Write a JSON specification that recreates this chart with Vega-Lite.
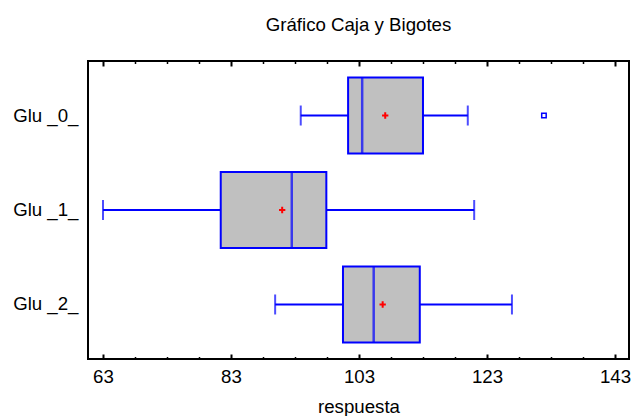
{
  "$schema": "https://vega.github.io/schema/vega-lite/v6.json",
  "width": 541,
  "height": 298,
  "autosize": {"type": "none"},
  "padding": {"left": 88, "top": 61, "right": 4, "bottom": 57},
  "background": "white",
  "title": {
    "text": "Gráfico Caja y Bigotes",
    "font": "Liberation Sans",
    "fontSize": 18.67,
    "fontWeight": "normal",
    "color": "black",
    "anchor": "middle",
    "baseline": "alphabetic",
    "offset": 10
  },
  "config": {
    "view": {"stroke": "black", "strokeWidth": 2},
    "font": "Liberation Sans"
  },
  "datasets": {
    "stats": [
      {"grupo": "Glu _0_", "lo": 93.9, "q1": 101.3, "med": 103.5, "q3": 113.0, "hi": 120.0, "mean": 107.1},
      {"grupo": "Glu _1_", "lo": 63.0, "q1": 81.4, "med": 92.5, "q3": 97.9, "hi": 121.0, "mean": 91.0},
      {"grupo": "Glu _2_", "lo": 89.9, "q1": 100.5, "med": 105.3, "q3": 112.5, "hi": 126.9, "mean": 106.7}
    ],
    "outliers": [
      {"grupo": "Glu _0_", "valor": 131.9}
    ]
  },
  "data": {"name": "stats"},
  "encoding": {
    "y": {
      "field": "grupo",
      "type": "nominal",
      "scale": {"paddingInner": 0, "paddingOuter": 0.077},
      "axis": {
        "title": null,
        "ticks": false,
        "domain": false,
        "labelFont": "Liberation Sans",
        "labelFontSize": 18.67,
        "labelColor": "black",
        "labelPadding": 10
      }
    }
  },
  "layer": [
    {
      "mark": {"type": "rule", "color": "#0000FF", "strokeWidth": 2},
      "encoding": {
        "x": {
          "field": "lo",
          "type": "quantitative",
          "scale": {"domain": [60.66, 145.19], "nice": false, "zero": false},
          "axis": {
            "orient": "bottom",
            "title": "respuesta",
            "titleFont": "Liberation Sans",
            "titleFontSize": 18.67,
            "titleFontWeight": "normal",
            "titleColor": "black",
            "titlePadding": 9,
            "values": [63, 68, 73, 78, 83, 88, 93, 98, 103, 108, 113, 118, 123, 128, 133, 138, 143],
            "labelExpr": "datum.value % 20 == 3 ? datum.label : ''",
            "labelFont": "Liberation Sans",
            "labelFontSize": 18.67,
            "labelColor": "black",
            "labelPadding": 13,
            "labelFlush": false,
            "labelOverlap": false,
            "domain": false,
            "grid": false,
            "tickColor": "black",
            "tickWidth": {"condition": {"test": "datum.value % 20 == 3", "value": 2}, "value": 1.5},
            "tickSize": {"condition": {"test": "datum.value % 20 == 3", "value": -5}, "value": -2.5}
          }
        },
        "x2": {"field": "hi"}
      }
    },
    {
      "mark": {"type": "tick", "color": "#0000FF", "thickness": 2, "size": 20},
      "encoding": {"x": {"field": "lo", "type": "quantitative", "axis": null}}
    },
    {
      "mark": {"type": "tick", "color": "#0000FF", "thickness": 2, "size": 20},
      "encoding": {"x": {"field": "hi", "type": "quantitative", "axis": null}}
    },
    {
      "mark": {"type": "bar", "fill": "#C0C0C0", "stroke": "#0000FF", "strokeWidth": 2, "size": 76},
      "encoding": {
        "x": {
          "field": "q1",
          "type": "quantitative",
          "axis": {
            "orient": "top",
            "title": null,
            "labels": false,
            "domain": false,
            "grid": false,
            "values": [63, 68, 73, 78, 83, 88, 93, 98, 103, 108, 113, 118, 123, 128, 133, 138, 143],
            "tickColor": "black",
            "tickWidth": {"condition": {"test": "datum.value % 20 == 3", "value": 2}, "value": 1.5},
            "tickSize": {"condition": {"test": "datum.value % 20 == 3", "value": -5}, "value": -2.5}
          }
        },
        "x2": {"field": "q3"}
      }
    },
    {
      "mark": {"type": "tick", "color": "#0000FF", "thickness": 2.5, "size": 76},
      "encoding": {"x": {"field": "med", "type": "quantitative", "axis": null}}
    },
    {
      "mark": {"type": "point", "shape": "M-1,0L1,0M0,-1L0,1", "filled": false, "stroke": "#FF0000", "strokeWidth": 2, "size": 40, "opacity": 1},
      "encoding": {"x": {"field": "mean", "type": "quantitative", "axis": null}}
    },
    {
      "data": {"name": "outliers"},
      "mark": {"type": "point", "shape": "square", "filled": false, "fill": "white", "stroke": "#0000FF", "strokeWidth": 1.5, "size": 20, "opacity": 1},
      "encoding": {"x": {"field": "valor", "type": "quantitative", "axis": null}}
    }
  ],
  "resolve": {"axis": {"x": "independent"}}
}
